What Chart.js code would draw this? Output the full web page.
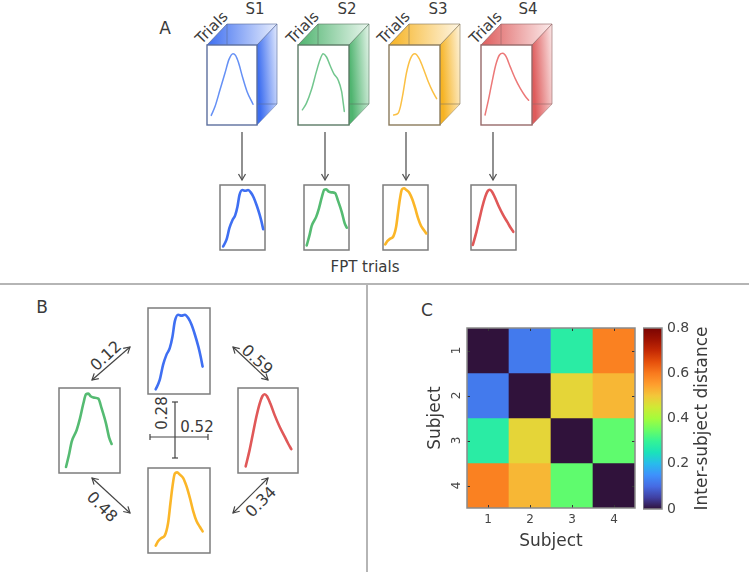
<!DOCTYPE html>
<html><head><meta charset="utf-8">
<script src="https://cdn.jsdelivr.net/npm/chart.js@4.4.0/dist/chart.umd.min.js"></script>
<style>
html,body{margin:0;padding:0;background:#fff;}
#root{position:relative;width:749px;height:572px;overflow:hidden;font-family:'DejaVu Sans',sans-serif;color:#3a3a3a;background:#fff;}
.t{position:absolute;white-space:nowrap;line-height:1;}
canvas{position:absolute;}
svg{position:absolute;left:0;top:0;}
</style></head><body><div id="root"><svg id="deco" width="749" height="572" xmlns="http://www.w3.org/2000/svg"></svg></div>
<script>
// ---------------- DATA ----------------
const subjects = ['1', '2', '3', '4'];
const subjectNames = ['S1', 'S2', 'S3', 'S4'];
// inter-subject distance matrix rows
const distRow1 = [0, 0.12, 0.28, 0.59];
const distRow2 = [0.12, 0, 0.48, 0.52];
const distRow3 = [0.28, 0.48, 0, 0.34];
const distRow4 = [0.59, 0.52, 0.34, 0];
const colorbarMax = 0.8;
const colorbarStep = 0.2;

// trial-average curves (panel A, inside the trial stacks)
const avgX_S1 = [0.085, 0.16, 0.26, 0.36, 0.44, 0.52, 0.57, 0.63, 0.71, 0.80, 0.92];
const avgY_S1 = [0.12, 0.23, 0.44, 0.65, 0.82, 0.89, 0.87, 0.78, 0.60, 0.42, 0.26];
const avgX_S2 = [0.086, 0.164, 0.263, 0.362, 0.428, 0.493, 0.559, 0.625, 0.704, 0.789, 0.855, 0.888, 0.908];
const avgY_S2 = [0.19, 0.27, 0.44, 0.67, 0.81, 0.89, 0.85, 0.75, 0.64, 0.56, 0.42, 0.27, 0.17];
const avgX_S3 = [0.092, 0.178, 0.224, 0.276, 0.342, 0.421, 0.507, 0.592, 0.671, 0.770, 0.855, 0.934];
const avgY_S3 = [0.125, 0.146, 0.23, 0.40, 0.65, 0.83, 0.89, 0.83, 0.71, 0.54, 0.42, 0.33];
const avgX_S4 = [0.079, 0.145, 0.211, 0.289, 0.362, 0.428, 0.493, 0.572, 0.671, 0.770, 0.868, 0.934];
const avgY_S4 = [0.125, 0.31, 0.52, 0.75, 0.875, 0.896, 0.854, 0.73, 0.58, 0.458, 0.36, 0.31];

// FPT trial curves (panel A bottom and panel B)
const fptX_S1 = [0.124, 0.189, 0.243, 0.297, 0.351, 0.395, 0.432, 0.486, 0.541, 0.595, 0.649, 0.703, 0.757, 0.811, 0.849, 0.881];
const fptY_S1 = [0.054, 0.163, 0.339, 0.455, 0.533, 0.669, 0.844, 0.922, 0.911, 0.922, 0.883, 0.805, 0.689, 0.553, 0.436, 0.319];
const fptX_S2 = [0.115, 0.169, 0.208, 0.29, 0.344, 0.399, 0.443, 0.481, 0.519, 0.574, 0.645, 0.699, 0.77, 0.825, 0.863];
const fptY_S2 = [0.07, 0.233, 0.37, 0.506, 0.642, 0.817, 0.926, 0.934, 0.903, 0.887, 0.875, 0.759, 0.584, 0.409, 0.342];
const fptX_S3 = [0.124, 0.162, 0.216, 0.27, 0.324, 0.362, 0.395, 0.432, 0.47, 0.514, 0.568, 0.622, 0.676, 0.73, 0.784, 0.838, 0.881];
const fptY_S3 = [0.086, 0.137, 0.176, 0.204, 0.353, 0.588, 0.784, 0.933, 0.949, 0.922, 0.882, 0.784, 0.647, 0.49, 0.373, 0.306, 0.255];
const fptX_S4 = [0.128, 0.194, 0.25, 0.306, 0.361, 0.406, 0.444, 0.483, 0.539, 0.611, 0.694, 0.778, 0.833, 0.889];
const fptY_S4 = [0.078, 0.272, 0.467, 0.661, 0.817, 0.903, 0.926, 0.903, 0.817, 0.681, 0.545, 0.428, 0.35, 0.28];

// ---------------- STYLE / LAYOUT ----------------
const FONT = "'DejaVu Sans', sans-serif";
const TXT = '#3a3a3a';
const thickColors = ['#3f6ff2', '#55bb72', '#fbb628', '#e05858'];
const thinColors = ['#6590f5', '#72c68e', '#fbc044', '#ec7878'];
const faceColors = ['#3d6ef0', '#4fb46f', '#f6b323', '#de5c5c'];
const edgeColors = ['#5d6f9e', '#5c7b66', '#8a7b5c', '#986a6a'];
const turboStops = [
  [0.0, 48, 18, 59], [0.0625, 64, 64, 162], [0.125, 70, 107, 227], [0.1875, 62, 145, 252],
  [0.25, 40, 187, 236], [0.3125, 26, 226, 186], [0.375, 52, 243, 150], [0.4375, 106, 253, 100],
  [0.5, 164, 252, 60], [0.5625, 208, 233, 53], [0.625, 243, 199, 58], [0.6875, 254, 158, 46],
  [0.75, 249, 122, 30], [0.8125, 230, 80, 12], [0.875, 196, 41, 4], [0.9375, 157, 18, 2], [1.0, 122, 4, 3]
];
function turbo(t) {
  t = Math.max(0, Math.min(1, t));
  for (let i = 1; i < turboStops.length; i++) {
    const a = turboStops[i - 1], b = turboStops[i];
    if (t <= b[0]) {
      const f = (t - a[0]) / (b[0] - a[0]);
      const c = [1, 2, 3].map(k => Math.round(a[k] + (b[k] - a[k]) * f));
      return `rgb(${c[0]},${c[1]},${c[2]})`;
    }
  }
  return 'rgb(122,4,3)';
}

const root = document.getElementById('root');
const svg = document.getElementById('deco');
const NS = 'http://www.w3.org/2000/svg';
function el(tag, attrs, parent) {
  const e = document.createElementNS(NS, tag);
  for (const k in attrs) e.setAttribute(k, attrs[k]);
  (parent || svg).appendChild(e);
  return e;
}
function text(str, cx, cy, size, rot) {
  const d = document.createElement('div');
  d.className = 't';
  d.textContent = str;
  d.style.fontSize = size + 'px';
  d.style.left = cx + 'px';
  d.style.top = cy + 'px';
  d.style.transform = `translate(-50%,-50%) rotate(${rot || 0}deg)`;
  root.appendChild(d);
}

// ---- dividers ----
el('line', {x1: 0, y1: 284, x2: 749, y2: 284, stroke: '#b5b5b5', 'stroke-width': 2});
el('line', {x1: 367, y1: 284, x2: 367, y2: 572, stroke: '#b5b5b5', 'stroke-width': 2});

// ---- panel A: 3D stacks ----
const defs = el('defs', {});
const fronts = [[207, 257], [298, 349], [389, 440], [481, 532]];
const fy1 = 45, fy2 = 125, dx = 20, dy = -21;
fronts.forEach((f, i) => {
  const g = el('linearGradient', {id: 'g' + i, x1: 0, y1: 0, x2: 1, y2: 0}, defs);
  el('stop', {offset: 0, 'stop-color': faceColors[i], 'stop-opacity': 1}, g);
  el('stop', {offset: 1, 'stop-color': faceColors[i], 'stop-opacity': 0.12}, g);
  const g2 = el('linearGradient', {id: 'h' + i, x1: 0, y1: 0.3, x2: 1, y2: 0}, defs);
  el('stop', {offset: 0, 'stop-color': faceColors[i], 'stop-opacity': 1}, g2);
  el('stop', {offset: 1, 'stop-color': faceColors[i], 'stop-opacity': 0.15}, g2);
  const [a, b] = f;
  el('polygon', {points: `${a},${fy1} ${b},${fy1} ${b + dx},${fy1 + dy} ${a + dx},${fy1 + dy}`, fill: `url(#g${i})`});
  el('polygon', {points: `${b},${fy1} ${b + dx},${fy1 + dy} ${b + dx},${fy2 + dy} ${b},${fy2}`, fill: `url(#h${i})`});
  // back edges
  el('polyline', {points: `${a + dx},${fy1} ${a + dx},${fy1 + dy} ${b + dx},${fy1 + dy} ${b + dx},${fy2 + dy} ${b},${fy2 + dy}`, fill: 'none', stroke: edgeColors[i], 'stroke-width': 0.8, 'stroke-opacity': 0.8});
  el('line', {x1: b, y1: fy1, x2: b + dx, y2: fy1 + dy, stroke: edgeColors[i], 'stroke-width': 0.8});
  el('line', {x1: b, y1: fy2, x2: b + dx, y2: fy2 + dy, stroke: edgeColors[i], 'stroke-width': 0.8, 'stroke-opacity': 0.6});
  el('line', {x1: a, y1: fy1, x2: a + dx, y2: fy1 + dy, stroke: edgeColors[i], 'stroke-width': 0.8});
  el('rect', {x: a, y: fy1, width: b - a, height: fy2 - fy1, fill: '#fff', stroke: edgeColors[i], 'stroke-width': 1.4});
  text('Trials', a + 5, 28, 15, -45);
  text(subjectNames[i], [255, 347, 438, 528][i], 9, 15, 0);
});

// ---- panel A arrows ----
const arrowXs = [242, 325, 406, 493];
arrowXs.forEach(x => {
  el('line', {x1: x, y1: 132, x2: x, y2: 180, stroke: '#555', 'stroke-width': 1.3});
  el('polyline', {points: `${x - 3.5},${174} ${x},${180} ${x + 3.5},${174}`, fill: 'none', stroke: '#555', 'stroke-width': 1.3});
});

// ---- box frames (FPT) ----
const fptBoxesA = [[220, 185, 265, 250], [304, 185, 349, 250], [383, 185, 428, 250], [471, 185, 516, 250]];
const fptXRangeA = [[0.0645, 0.915], [0.0646, 0.905], [0.0824, 0.914], [0.0942, 0.9398]];
const fptBoxesB = [[148, 308, 210, 394], [59, 388, 120, 473], [148, 468, 210, 553], [238, 388, 298, 473]];
[...fptBoxesA, ...fptBoxesB].forEach(b => {
  el('rect', {x: b[0], y: b[1], width: b[2] - b[0], height: b[3] - b[1], fill: '#fff', stroke: '#7c7c7c', 'stroke-width': 1.5});
});

// ---- panel B arrows ----
function dblArrow(x1, y1, x2, y2) {
  el('line', {x1, y1, x2, y2, stroke: '#444', 'stroke-width': 1.2});
  const ang = Math.atan2(y2 - y1, x2 - x1);
  const L = 6, W = 3.5;
  [[x1, y1, ang + Math.PI], [x2, y2, ang]].forEach(([x, y, a]) => {
    const bx = x - L * Math.cos(a), by = y - L * Math.sin(a);
    const px = -Math.sin(a) * W, py = Math.cos(a) * W;
    el('polyline', {points: `${bx + px},${by + py} ${x},${y} ${bx - px},${by - py}`, fill: 'none', stroke: '#444', 'stroke-width': 1.2});
  });
}
dblArrow(92, 380, 130, 347);
dblArrow(233, 347, 268, 380);
dblArrow(92, 478, 130, 513);
dblArrow(233, 513, 268, 478);
// cross with caps
el('line', {x1: 175, y1: 402, x2: 175, y2: 458, stroke: '#444', 'stroke-width': 1.2});
el('line', {x1: 172, y1: 402, x2: 178, y2: 402, stroke: '#444', 'stroke-width': 1.2});
el('line', {x1: 172, y1: 458, x2: 178, y2: 458, stroke: '#444', 'stroke-width': 1.2});
el('line', {x1: 150, y1: 437, x2: 208, y2: 437, stroke: '#444', 'stroke-width': 1.2});
el('line', {x1: 150, y1: 434, x2: 150, y2: 440, stroke: '#444', 'stroke-width': 1.2});
el('line', {x1: 208, y1: 434, x2: 208, y2: 440, stroke: '#444', 'stroke-width': 1.2});

const fmt = v => v.toFixed(2);
text(fmt(distRow1[1]), 106, 356, 16, -43);
text(fmt(distRow1[3]), 257, 360, 16, 43);
text(fmt(distRow2[2]), 102, 507, 16, 45);
text(fmt(distRow3[3]), 261, 502, 16, -45);
text(fmt(distRow1[2]), 162, 413, 15, -90);
text(fmt(distRow2[3]), 197, 427, 15, 0);

// panel labels
text('A', 165, 28, 17, 0);
text('B', 42, 307, 17, 0);
text('C', 427, 310, 17, 0);
text('FPT trials', 365, 267, 15, 0);

// ---------------- mini line charts ----------------
function mini(box, xs, ys, color, lw, xr) {
  const c = document.createElement('canvas');
  c.width = box[2] - box[0]; c.height = box[3] - box[1];
  c.style.left = box[0] + 'px'; c.style.top = box[1] + 'px';
  root.appendChild(c);
  new Chart(c, {
    type: 'line',
    data: {datasets: [{data: xs.map((x, i) => ({x, y: ys[i]})), borderColor: color, borderWidth: lw,
      pointRadius: 0, cubicInterpolationMode: 'monotone', fill: false, borderCapStyle: 'round', borderJoinStyle: 'round'}]},
    options: {responsive: false, animation: false, events: [], layout: {padding: 0},
      plugins: {legend: {display: false}, tooltip: {enabled: false}},
      scales: {x: {type: 'linear', display: false, min: xr[0], max: xr[1]}, y: {type: 'linear', display: false, min: 0, max: 1}}}
  });
}
const avgX = [avgX_S1, avgX_S2, avgX_S3, avgX_S4];
const avgY = [avgY_S1, avgY_S2, avgY_S3, avgY_S4];
const fptX = [fptX_S1, fptX_S2, fptX_S3, fptX_S4];
const fptY = [fptY_S1, fptY_S2, fptY_S3, fptY_S4];
fronts.forEach((f, i) => mini([f[0], fy1, f[1], fy2], avgX[i], avgY[i], thinColors[i], 1.5, [0, 1]));
fptBoxesA.forEach((b, i) => mini(b, fptX[i], fptY[i], thickColors[i], 2.6, fptXRangeA[i]));
fptBoxesB.forEach((b, i) => mini(b, fptX[i], fptY[i], thickColors[i], 2.6, [0, 1]));

// ---------------- heatmap (panel C) ----------------
const matrix = [distRow1, distRow2, distRow3, distRow4];
const framePlugin = {
  id: 'frame',
  afterDraw(chart) {
    const {ctx, chartArea: a} = chart;
    ctx.save();
    ctx.strokeStyle = '#333'; ctx.lineWidth = 1;
    const xs = chart.scales.x, ys = chart.scales.y;
    subjects.forEach((s, i) => {
      const px = Math.round(xs.getPixelForValue(i)) + 0.5;
      ctx.beginPath(); ctx.moveTo(px, a.top); ctx.lineTo(px, a.top + 3); ctx.moveTo(px, a.bottom); ctx.lineTo(px, a.bottom - 3); ctx.stroke();
      const py = Math.round(ys.getPixelForValue(i + 1)) + 0.5;
      ctx.beginPath(); ctx.moveTo(a.left, py); ctx.lineTo(a.left + 3, py); ctx.moveTo(a.right, py); ctx.lineTo(a.right - 3, py); ctx.stroke();
    });
    ctx.strokeStyle = '#8a8a8a'; ctx.lineWidth = 1.5;
    ctx.strokeRect(a.left, a.top, a.right - a.left, a.bottom - a.top);
    ctx.restore();
  }
};
const hm = document.createElement('canvas');
hm.width = 218; hm.height = 240; hm.style.left = '421px'; hm.style.top = '320px';
root.appendChild(hm);
new Chart(hm, {
  type: 'bar',
  data: {labels: subjects, datasets: matrix.map((row, r) => ({
    data: row.map(() => [r + 0.5, r + 1.5]),
    backgroundColor: row.map(v => turbo(v / colorbarMax)),
    grouped: false, barPercentage: 1, categoryPercentage: 1, borderWidth: 0, borderSkipped: false
  }))},
  options: {responsive: false, animation: false, events: [],
    layout: {padding: {top: 8, right: 4, left: 0, bottom: 0}},
    plugins: {legend: {display: false}, tooltip: {enabled: false}},
    scales: {
      x: {type: 'category', grid: {display: false, drawTicks: false}, border: {display: false},
        ticks: {font: {family: FONT, size: 12}, color: '#444', padding: 5, maxRotation: 0},
        title: {display: true, text: 'Subject', font: {family: FONT, size: 17}, color: TXT, padding: {top: 0, bottom: 8}},
        afterFit: s => { s.height = 52; s.paddingLeft = 0; s.paddingRight = 0; }},
      y: {type: 'linear', min: 0.5, max: 4.5, reverse: true, grid: {display: false, drawTicks: false}, border: {display: false},
        afterBuildTicks: s => { s.ticks = subjects.map((l, i) => ({value: i + 1})); },
        ticks: {callback: v => subjects[Math.round(v) - 1], font: {family: FONT, size: 12}, color: '#444',
          minRotation: 90, maxRotation: 90, crossAlign: 'center', padding: 6},
        title: {display: true, text: 'Subject', font: {family: FONT, size: 17}, color: TXT, padding: {top: 4, bottom: 0}},
        afterFit: s => { s.width = 46; s.paddingTop = 0; s.paddingBottom = 0; }}
    }},
  plugins: [framePlugin]
});

// ---------------- colorbar ----------------
const cbPlugin = {
  id: 'cb',
  afterDraw(chart) {
    const {ctx, chartArea: a} = chart;
    ctx.save();
    ctx.strokeStyle = '#8a8a8a'; ctx.lineWidth = 1.5;
    ctx.strokeRect(a.left, a.top, a.right - a.left, a.bottom - a.top);
    ctx.translate(a.right + 41, (a.top + a.bottom) / 2);
    ctx.rotate(-Math.PI / 2);
    ctx.fillStyle = TXT; ctx.font = `17px ${FONT}`; ctx.textAlign = 'center'; ctx.textBaseline = 'middle';
    ctx.fillText('Inter-subject distance', 0, 0);
    ctx.restore();
  }
};
const cb = document.createElement('canvas');
cb.width = 106; cb.height = 200; cb.style.left = '643px'; cb.style.top = '320px';
root.appendChild(cb);
new Chart(cb, {
  type: 'bar',
  data: {labels: [''], datasets: [{data: [[0, colorbarMax]], barPercentage: 1, categoryPercentage: 1, borderWidth: 0,
    backgroundColor: ctx => {
      const a = ctx.chart.chartArea; if (!a) return 'rgba(0,0,0,0)';
      const g = ctx.chart.ctx.createLinearGradient(0, a.bottom, 0, a.top);
      turboStops.forEach(s => g.addColorStop(s[0], `rgb(${s[1]},${s[2]},${s[3]})`));
      return g;
    }}]},
  options: {responsive: false, animation: false, events: [],
    layout: {padding: {top: 8, bottom: 11, left: 0, right: 0}},
    plugins: {legend: {display: false}, tooltip: {enabled: false}},
    scales: {
      x: {display: false},
      y: {position: 'right', min: 0, max: colorbarMax, grid: {display: false, drawTicks: false}, border: {display: false},
        ticks: {stepSize: colorbarStep, font: {family: FONT, size: 14}, color: '#444', padding: 5},
        afterFit: s => { s.width = 87; s.paddingTop = 0; s.paddingBottom = 0; }}
    }},
  plugins: [cbPlugin]
});
</script></body></html>
